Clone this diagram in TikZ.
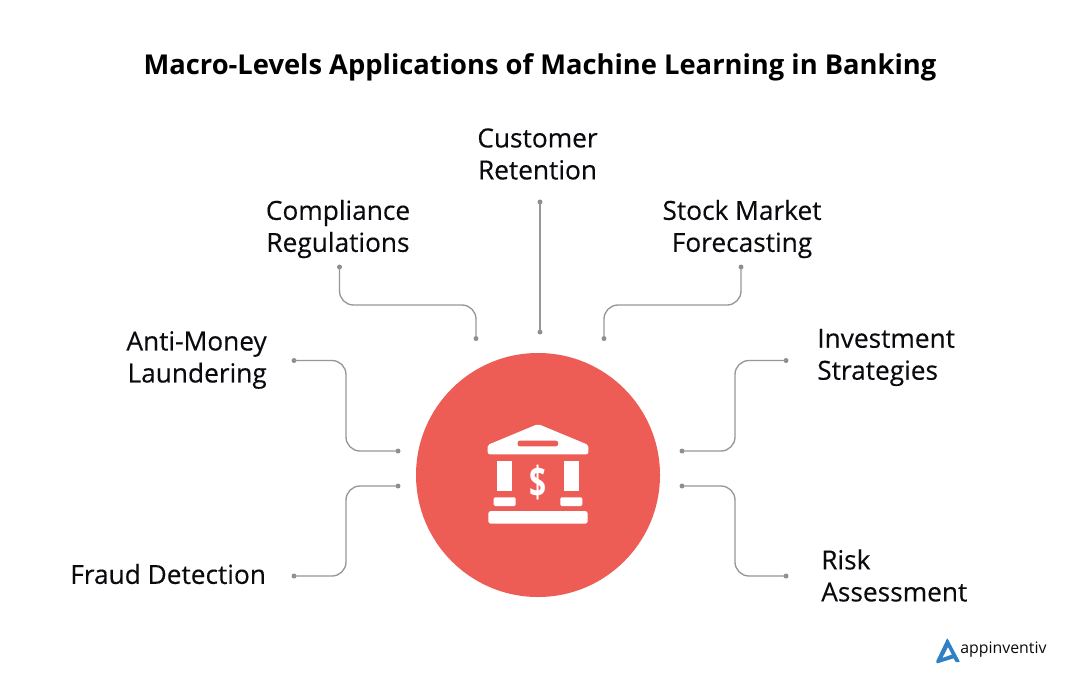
\documentclass[tikz,border=0pt]{standalone}
\usepackage{fontspec}
\setmainfont{Open Sans}
\newfontfamily\medfont[FakeBold=0.25]{Open Sans}
\usetikzlibrary{calc}
\definecolor{redc}{HTML}{EE5C56}
\definecolor{linec}{HTML}{97979B}
\definecolor{dotc}{HTML}{8C8C90}
\definecolor{bluec}{HTML}{2F80C4}
\definecolor{inkc}{HTML}{0B0B0F}
\tikzset{
 labelc/.style={text=inkc,inner sep=0pt,font=\medfont\fontsize{19.7}{24}\selectfont,align=center},
 labell/.style={labelc,align=left},
 labelr/.style={labelc,align=right},
 enddot/.style={circle,fill=dotc,draw=none,minimum size=3.7pt,inner sep=0pt},
 conn/.style={draw=linec,line width=1pt,rounded corners=10.5pt},
 icon/.style={fill=white,draw=none},
}
\begin{document}
\begin{tikzpicture}[x=0.75pt,y=-0.75pt]
\useasboundingbox (0,0) rectangle (1080,682);
\fill[white] (0,0) rectangle (1080,682);
\node[text=black,inner sep=0pt,font=\fontsize{20.5}{24}\selectfont\bfseries] (title) at (540,67) {Macro-Levels Applications of Machine Learning in Banking};

\node[circle,fill=redc,minimum size=183pt,inner sep=0pt] (hub) at (538,475) {};

% icon
\fill[icon,rounded corners=1.5pt] (538,424) -- (588.5,445) -- (588.2,454.3) -- (487.8,454.3) -- (487.5,445) -- cycle;
\fill[redc,rounded corners=1.5pt] (517.7,440.7) rectangle (558,446.3);
\fill[icon] (497.3,461) rectangle (512.3,491);
\fill[icon] (563.7,461) rectangle (578.7,491);
\fill[icon,rounded corners=1pt] (493.7,497.3) rectangle (515.7,506);
\fill[icon,rounded corners=1pt] (560.3,497.3) rectangle (582.3,506);
\fill[icon,rounded corners=2pt] (488.3,511) rectangle (587.7,523.7);
\node[text=white,inner sep=0pt,font=\fontsize{32}{34}\selectfont\bfseries] (dollar) at (538,483) {\scalebox{0.7}[1]{\$}};

% end dots
\node[enddot] (a1) at (339.5,267) {}; \node[enddot] (a2) at (476,338.5) {};
\node[enddot] (b1) at (540,202) {};   \node[enddot] (b2) at (540,332) {};
\node[enddot] (c1) at (741,267) {};   \node[enddot] (c2) at (604,338.5) {};
\node[enddot] (d1) at (294,360.5) {}; \node[enddot] (d2) at (398,451) {};
\node[enddot] (e1) at (294,576) {};   \node[enddot] (e2) at (398,486) {};
\node[enddot] (f1) at (786,360.5) {}; \node[enddot] (f2) at (682,451) {};
\node[enddot] (g1) at (786,576) {};   \node[enddot] (g2) at (682,486) {};

% connectors
\draw[conn] (a1.center) -- (a1.center |- 0,305) -- (a2.center |- 0,305) -- (a2.center);
\draw[draw=linec,line width=1pt] (b1.center) -- (b2.center);
\draw[conn] (c1.center) -- (c1.center |- 0,305) -- (c2.center |- 0,305) -- (c2.center);
\draw[conn] (d1.center) -- (346,360.5) -- (346,451) -- (d2.center);
\draw[conn] (e1.center) -- (346,576) -- (346,486) -- (e2.center);
\draw[conn] (f1.center) -- (735,360.5) -- (735,451) -- (f2.center);
\draw[conn] (g1.center) -- (735,576) -- (735,486) -- (g2.center);

% labels
\node[labelc] (lb) at (537.5,154) {Customer\\Retention};
\node[labelc] (la) at (338,229) {Compliance\\Regulations};
\node[labelc] (lc) at (742,229) {Stock Market\\Forecasting};
\node[labelr,anchor=east] (ld) at (267,360) {Anti-Money\\Laundering};
\node[labell,anchor=west] (lf) at (817,357.5) {Investment\\Strategies};
\node[labelc,anchor=west] (le) at (70,574) {Fraud Detection};
\node[labell,anchor=west] (lg) at (821,575.5) {Risk\\Assessment};

% logo
\fill[bluec,rounded corners=0.6pt] (947.3,638) -- (960,662) -- (955.5,662) -- (948,647) -- (942.3,658) -- (952,654.5) -- (954,658.2) -- (936.8,663.5) -- (936,661.5) -- cycle;
\node[text=inkc,inner sep=0pt,anchor=west,font=\fontsize{11.9}{14}\selectfont] (logo) at (960,650) {appinventiv};
\end{tikzpicture}
\end{document}
